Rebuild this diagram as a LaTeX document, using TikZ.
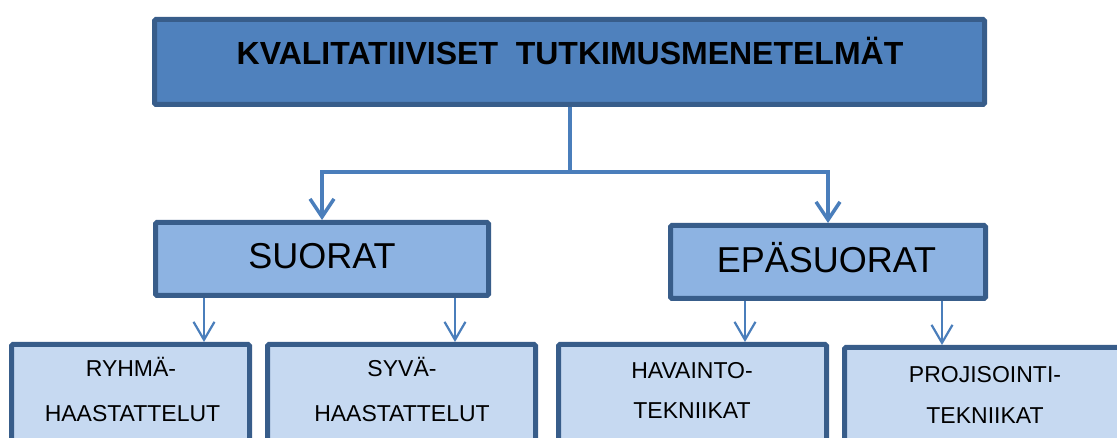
\documentclass[tikz,border=0pt]{standalone}
\usepackage{fontspec}
\setmainfont{Liberation Sans}
\usetikzlibrary{arrows.meta}

\definecolor{edgeblue}{HTML}{385D8A}
\definecolor{topfill}{HTML}{4F81BD}
\definecolor{midfill}{HTML}{8DB3E2}
\definecolor{lowfill}{HTML}{C6D9F1}
\definecolor{linkblue}{HTML}{4A7EBB}

\tikzset{
  box/.style={draw=edgeblue, line width=5pt, rectangle, rounded corners=1.5pt,
              inner sep=0pt, text=black},
  topbox/.style={box, fill=topfill},
  midbox/.style={box, fill=midfill},
  lowbox/.style={box, fill=lowfill},
  toptext/.style={font=\fontsize{32}{36}\selectfont\bfseries, anchor=base, inner sep=0pt},
  midtext/.style={font=\fontsize{36}{40}\selectfont, anchor=base, inner sep=0pt},
  lowtext/.style={font=\fontsize{23}{26}\selectfont, anchor=base, inner sep=0pt},
  link/.style={draw=linkblue, line width=4pt},
  bigarrow/.style={link, -{Straight Barb[length=18pt, width=24pt, line width=3.5pt]}},
  smallarrow/.style={draw=linkblue, line width=2.2pt,
                     -{Straight Barb[length=18pt, width=21pt, line width=2.2pt]}}
}

\begin{document}
\begin{tikzpicture}[x=1pt, y=-1pt]
  \clip (0,0) rectangle (1117,438);
  \fill[white] (0,0) rectangle (1117,438);

  % top level
  \node[topbox, minimum width=830pt, minimum height=85pt] (top) at (569.5,62) {};
  \node[toptext] (toplabel) at (570,65) {KVALITATIIVISET\ \ TUTKIMUSMENETELMÄT};

  % second level
  \node[midbox, minimum width=333pt, minimum height=73pt] (suorat) at (322,259) {};
  \node[midtext] (suoratlabel) at (322,269) {SUORAT};
  \node[midbox, minimum width=315pt, minimum height=73pt] (epa) at (828,262) {};
  \node[midtext] (epalabel) at (826.5,273) {EPÄSUORAT};

  % third level (running past the lower edge)
  \node[lowbox, minimum width=238pt, minimum height=123pt] (ryhma) at (130.5,406) {};
  \node[lowtext] (ryhma1) at (131,377) {RYHMÄ-};
  \node[lowtext] (ryhma2) at (132.5,421) {HAASTATTELUT};

  \node[lowbox, minimum width=268pt, minimum height=123pt] (syva) at (401.5,406) {};
  \node[lowtext] (syva1) at (402,377) {SYVÄ-};
  \node[lowtext] (syva2) at (402,421) {HAASTATTELUT};

  \node[lowbox, minimum width=268pt, minimum height=123pt] (havainto) at (692.5,406) {};
  \node[lowtext] (havainto1) at (692,378) {HAVAINTO-};
  \node[lowtext] (havainto2) at (692,418) {TEKNIIKAT};

  \node[lowbox, minimum width=281pt, minimum height=120pt] (projisointi) at (985,407.5) {};
  \node[lowtext] (projisointi1) at (985,383) {PROJISOINTI-};
  \node[lowtext] (projisointi2) at (985,423) {TEKNIIKAT};

  % branching from the top box
  \coordinate (split) at (569.5,172);
  \draw[link] (top.south) -- (split);
  \draw[bigarrow] (split) -| (suorat.north);
  \draw[bigarrow] (split) -| (epa.north);

  % arrows down to the third level
  \draw[smallarrow] (suorat.south -| 204,0) -- (ryhma.north -| 204,0);
  \draw[smallarrow] (suorat.south -| 455,0) -- (syva.north -| 455,0);
  \draw[smallarrow] (epa.south -| 745,0) -- (havainto.north -| 745,0);
  \draw[smallarrow] (epa.south -| 942,0) -- (projisointi.north -| 942,0);
\end{tikzpicture}
\end{document}
